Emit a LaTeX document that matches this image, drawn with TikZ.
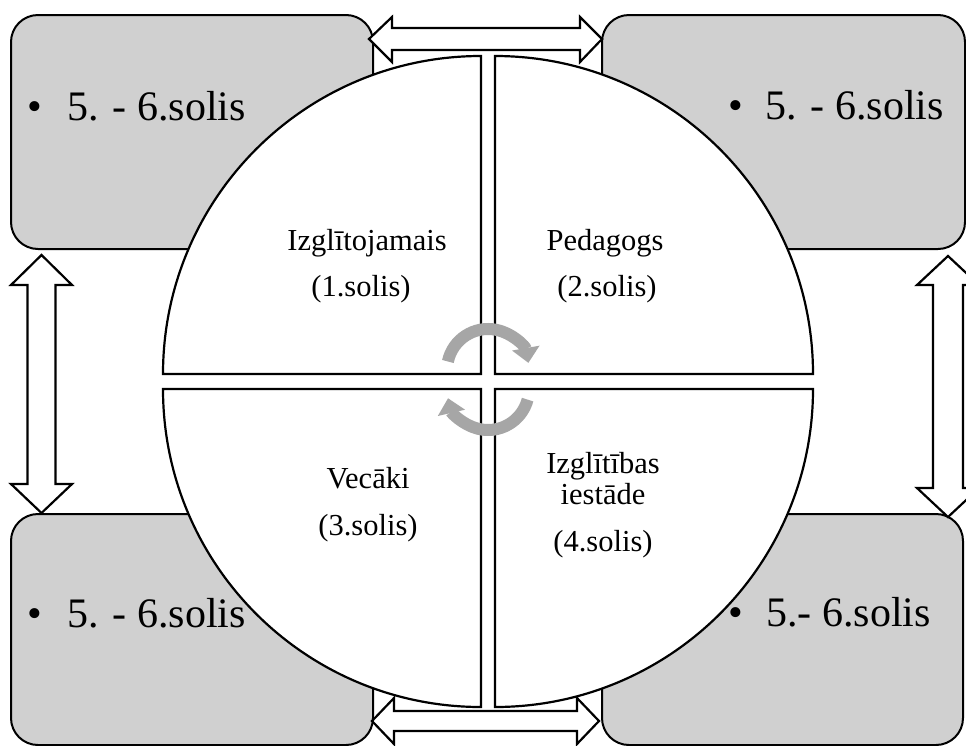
\documentclass[tikz,border=0pt]{standalone}
\usepackage{fontspec}
\setmainfont{Liberation Serif}
\usetikzlibrary{arrows.meta}
\definecolor{boxgray}{HTML}{D0D0D0}
\definecolor{arcgray}{HTML}{A6A6A6}
\begin{document}
\begin{tikzpicture}[x=1pt,y=-1pt,line join=miter,
  box/.style={draw=black,line width=2pt,fill=boxgray,rounded corners=27pt,inner sep=0pt},
  quad/.style={draw=black,line width=2.2pt,fill=white},
  dblarrow/.style={draw=black,line width=2.2pt,fill=white},
  cyc/.style={draw=arcgray,line width=12pt,-{Triangle[width=27pt,length=15pt]}},
  bigtxt/.style={inner sep=0pt,anchor=base west,font=\rmfamily\fontsize{42}{48}\selectfont},
  bul/.style={inner sep=0pt,anchor=base,font=\rmfamily\fontsize{42}{48}\selectfont},
  qtxt/.style={inner sep=0pt,anchor=base,font=\rmfamily\fontsize{30.5}{34}\selectfont}]
\useasboundingbox (0,0) rectangle (966,745);
\clip (0,0) rectangle (966,745);
\fill[white] (0,0) rectangle (966,745);
% corner boxes
\node[box,minimum width=362pt,minimum height=234pt] (tl) at (192,132) {};
\node[box,minimum width=363pt,minimum height=234pt] (tr) at (783.5,132) {};
\node[box,minimum width=362pt,minimum height=231pt] (bl) at (192,629.5) {};
\node[box,minimum width=361pt,minimum height=231pt] (br) at (782.5,629.5) {};
% double arrows
\path[dblarrow] (369,39) -- (392,17) -- (392,28) -- (580,28) -- (580,17) -- (602,39)
  -- (580,62) -- (580,50) -- (392,50) -- (392,62) -- cycle;
\path[dblarrow] (372,721) -- (394,698) -- (394,711) -- (577,711) -- (577,698) -- (599,721)
  -- (577,744) -- (577,731) -- (394,731) -- (394,744) -- cycle;
\path[dblarrow] (41.5,255) -- (72,285) -- (55.5,285) -- (55.5,484) -- (72,484) -- (41.5,513)
  -- (11,484) -- (27.5,484) -- (27.5,285) -- (11,285) -- cycle;
\path[dblarrow] (948,256) -- (979,285) -- (963,285) -- (963,488) -- (979,488) -- (948,517)
  -- (917,488) -- (933,488) -- (933,285) -- (917,285) -- cycle;
% quadrants
\path[quad] (481,374) -- (163,374) arc[start angle=180,end angle=270,radius=318] -- cycle;
\path[quad] (495,374) -- (495,56) arc[start angle=270,end angle=360,radius=318] -- cycle;
\path[quad] (481,389) -- (163,389) arc[start angle=180,end angle=90,radius=318] -- cycle;
\path[quad] (495,389) -- (813,389) arc[start angle=0,end angle=90,radius=318] -- cycle;
% cycle arrows
\draw[cyc] (488,370) ++(192:41) arc[start angle=192,end angle=350,radius=41];
\draw[cyc] (488,389) ++(15:41) arc[start angle=15,end angle=167,radius=41];
% box texts
\node[bul] (b1) at (35,120) {\textbullet};
\node[bigtxt] (t1) at (67,120) {5. - 6.solis};
\node[bul] (b2) at (736,119) {\textbullet};
\node[bigtxt] (t2) at (765,119) {5. - 6.solis};
\node[bul] (b3) at (35,627) {\textbullet};
\node[bigtxt] (t3) at (67,627) {5. - 6.solis};
\node[bul] (b4) at (736,626) {\textbullet};
\node[bigtxt] (t4) at (766,626) {5.- 6.solis};
% quadrant texts
\node[qtxt] (q1a) at (367,250) {Izglītojamais};
\node[qtxt] (q1b) at (361,296) {(1.solis)};
\node[qtxt] (q2a) at (605,250) {Pedagogs};
\node[qtxt] (q2b) at (607,296) {(2.solis)};
\node[qtxt] (q3a) at (368,488) {Vecāki};
\node[qtxt] (q3b) at (368,535) {(3.solis)};
\node[qtxt] (q4a) at (603,473) {Izglītības};
\node[qtxt] (q4b) at (603,504) {iestāde};
\node[qtxt] (q4c) at (603,551) {(4.solis)};
\end{tikzpicture}
\end{document}
